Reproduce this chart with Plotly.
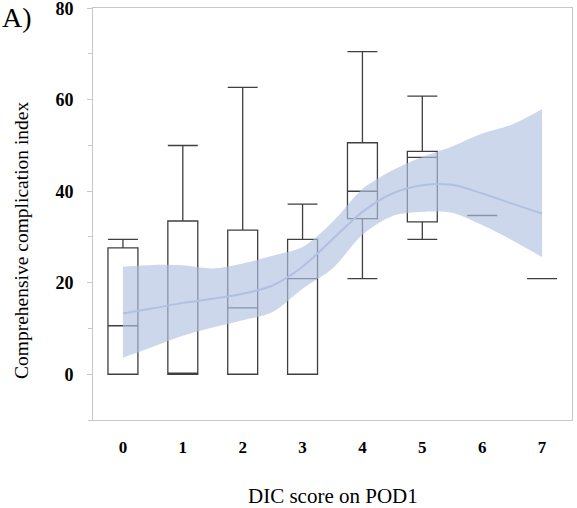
import plotly.graph_objects as go

# Box-plot summaries
dic_scores = [0, 1, 2, 3, 4, 5, 6, 7]
lower_whisker = [0, 0, 0, 0, 20.9, 29.5, 34.7, 20.9]
q1_vals = [0, 0, 0, 0, 34.0, 33.3, 34.7, 20.9]
median_vals = [10.6, 0, 14.5, 20.9, 40.0, 47.4, 34.7, 20.9]
q3_vals = [27.6, 33.5, 31.5, 29.5, 50.6, 48.7, 34.7, 20.9]
upper_whisker = [29.5, 50.0, 62.7, 37.2, 70.5, 60.8, 34.7, 20.9]

# Smoothed trend with confidence band
smooth_x = [0, 0.5, 1, 1.5, 2, 2.5, 3, 3.5, 4, 4.5, 5, 5.5, 6, 6.5, 7]
smooth_mid = [13.3, 14.4, 15.6, 16.5, 17.6, 19.4, 23.5, 29.5, 35.5, 39.5, 41.3, 41.4, 39.5, 37.3, 35.1]
smooth_upper = [23.5, 23.9, 23.8, 23.1, 24.2, 25.9, 27.8, 33.3, 40.5, 44.6, 47.5, 49.8, 52.6, 54.6, 57.9]
smooth_lower = [3.6, 6.0, 8.4, 10.2, 11.8, 13.6, 18.7, 23.1, 30.5, 34.6, 35.5, 35.3, 32.6, 29.3, 25.6]

y_ticks = [0, 20, 40, 60, 80]
x_title = "DIC score on POD1"
y_title = "Comprehensive complication index"
panel_label = "A)"

SERIF = "Liberation Serif, Times New Roman, serif"
AXIS_GREY = "#c8c8c8"

fig = go.Figure()

fig.add_trace(go.Scatter(
    x=smooth_x, y=smooth_lower, mode="lines",
    line=dict(width=0, shape="spline", smoothing=0.8),
    hoverinfo="skip", showlegend=False,
))
fig.add_trace(go.Scatter(
    x=smooth_x, y=smooth_upper, mode="lines", fill="tonexty",
    line=dict(width=0, shape="spline", smoothing=0.8),
    fillcolor="rgba(176,194,226,0.65)", hoverinfo="skip", showlegend=False,
))
fig.add_trace(go.Scatter(
    x=smooth_x, y=smooth_mid, mode="lines",
    line=dict(color="rgb(176,193,224)", width=2, shape="spline", smoothing=0.8),
    showlegend=False,
))
fig.add_trace(go.Box(
    x=dic_scores, q1=q1_vals, median=median_vals, q3=q3_vals,
    lowerfence=lower_whisker, upperfence=upper_whisker,
    width=0.5, whiskerwidth=1,
    fillcolor="rgba(0,0,0,0)", line=dict(color="#3f3f3f", width=1.3),
    showlegend=False, boxpoints=False,
))

fig.update_layout(
    width=577, height=508,
    margin=dict(l=93, r=5, t=8, b=88),
    plot_bgcolor="white", paper_bgcolor="white",
    font=dict(family=SERIF, color="black"),
    showlegend=False,
)
fig.update_xaxes(
    range=[-0.5, 7.5], tickvals=dic_scores, ticktext=[f"<b>{v}</b>" for v in dic_scores],
    tickfont=dict(size=17, family=SERIF), ticks="", ticklabelstandoff=12,
    showgrid=False, zeroline=False, automargin=False,
    showline=True, linecolor=AXIS_GREY, linewidth=1, mirror=True,
)
fig.update_yaxes(
    range=[-10, 80.05], tickvals=y_ticks, ticktext=[f"<b>{v}</b>" for v in y_ticks],
    tickfont=dict(size=18, family=SERIF), ticks="outside", ticklen=5, tickcolor=AXIS_GREY,
    ticklabelstandoff=10, ticklabeloverflow="allow",
    minor=dict(tickvals=[-10, 10, 30, 50, 70], ticks="outside", ticklen=4, tickcolor=AXIS_GREY),
    showgrid=False, zeroline=False, automargin=False,
    showline=True, linecolor=AXIS_GREY, linewidth=1, mirror=True,
)
fig.add_annotation(
    text=x_title, xref="paper", yref="paper", x=0.5, y=0, yshift=-76,
    xanchor="center", yanchor="middle", showarrow=False,
    font=dict(size=21, family=SERIF, color="black"),
)
fig.add_annotation(
    text=y_title, xref="paper", yref="paper", x=0, xshift=-72, y=(420 - 240) / 412,
    textangle=-90, xanchor="center", yanchor="middle", showarrow=False,
    font=dict(size=19.5, family=SERIF, color="black"),
)
fig.add_annotation(
    text=panel_label, xref="paper", yref="paper", x=0, xshift=-93, y=1.0, yshift=8,
    xanchor="left", yanchor="top", showarrow=False,
    font=dict(size=28, family=SERIF, color="black"),
)

fig.write_html(
    "out.html",
    config={"displayModeBar": False},
    post_script="document.body.style.margin='0';document.body.style.overflow='hidden';",
)
